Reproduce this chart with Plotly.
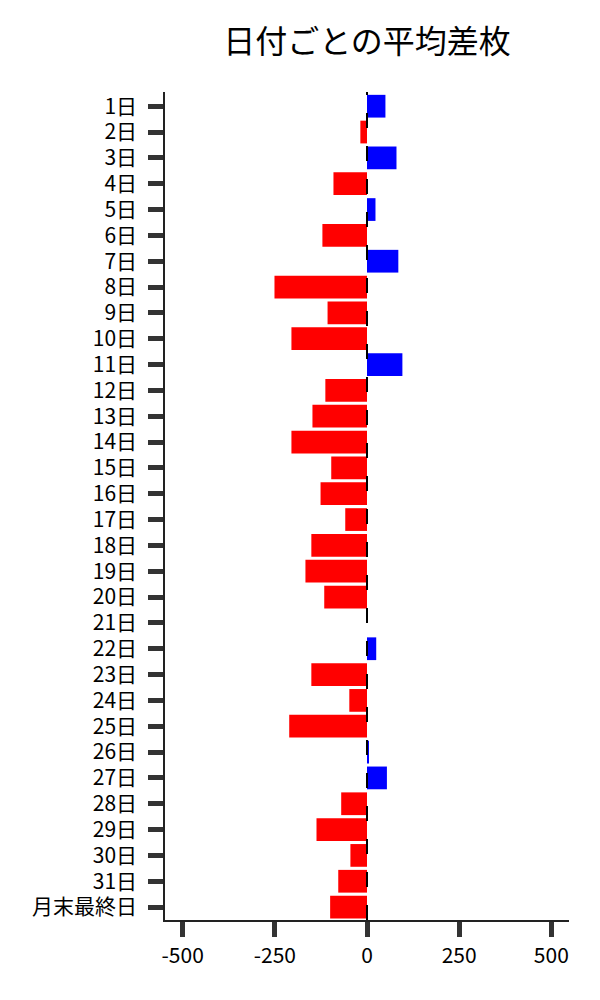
import plotly.graph_objects as go

# 日付ラベル (1日..31日 + 月末最終日)
days = [f'{d}日' for d in range(1, 32)] + ['月末最終日']

# 平均差枚
avg_diff = [
    50, -18, 80, -91, 23, -121, 85, -251, -107, -205,
    96, -113, -148, -205, -97, -126, -59, -151, -167, -116,
    0, 25, -151, -48, -211, 4, 54, -70, -137, -45,
    -78, -100,
]

x_ticks = [-500, -250, 0, 250, 500]

FONT = 'Noto Sans CJK JP'

colors = ['#0000FF' if v > 0 else '#FF0000' for v in avg_diff]

fig = go.Figure()

fig.add_trace(go.Bar(
    x=avg_diff,
    y=days,
    orientation='h',
    marker=dict(color=colors, line=dict(width=0)),
    showlegend=False,
))

# dashed zero line
fig.add_shape(
    type='line',
    xref='x', yref='paper',
    x0=0, x1=0, y0=0, y1=1,
    line=dict(color='black', width=2, dash='15px,18px'),
    layer='above',
)

axis_style = dict(
    showgrid=False,
    zeroline=False,
    showline=True,
    linecolor='#222',
    linewidth=1.5,
    ticks='outside',
    ticklen=15,
    tickwidth=5,
    tickcolor='#333',
    automargin=False,
)

fig.update_layout(
    width=600,
    height=1000,
    margin=dict(l=157, r=39, t=84, b=88),
    plot_bgcolor='white',
    paper_bgcolor='white',
    bargap=0.12,
    font=dict(family=FONT, size=21, color='black'),
    title=dict(
        text='日付ごとの平均差枚',
        font=dict(family=FONT, size=32, color='black'),
        x=0.5, xref='paper', xanchor='center',
        y=0.966, yref='container', yanchor='middle',
    ),
    xaxis=dict(
        range=[-548, 548],
        tickvals=x_ticks,
        ticktext=[str(v) for v in x_ticks],
        ticklabelstandoff=1,
        **axis_style,
    ),
    yaxis=dict(
        type='category',
        categoryorder='array',
        categoryarray=days,
        range=[31.5, -0.55],
        ticklabelstandoff=7,
        **axis_style,
    ),
)

fig.write_html('out.html')
